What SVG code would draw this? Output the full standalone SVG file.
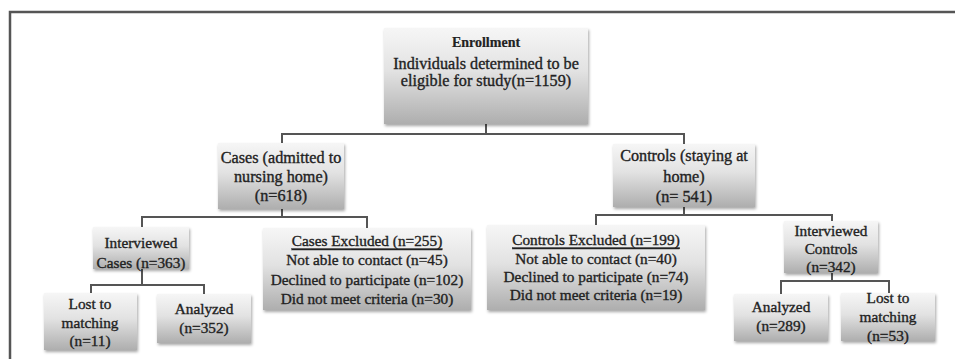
<svg xmlns="http://www.w3.org/2000/svg" width="955" height="359" viewBox="0 0 955 359">
<defs>
<linearGradient id="g" x1="0" y1="0" x2="0" y2="1">
<stop offset="0" stop-color="#f6f6f6"/>
<stop offset="0.45" stop-color="#e2e2e2"/>
<stop offset="1" stop-color="#aeaeae"/>
</linearGradient>
<filter id="sh" x="-10%" y="-10%" width="125%" height="130%">
<feDropShadow dx="1" dy="2" stdDeviation="1.5" flood-color="#000" flood-opacity="0.35"/>
</filter>
</defs>
<style>
.box{fill:url(#g);filter:url(#sh)}
.t{font-family:"Liberation Serif","DejaVu Serif",serif;font-size:15.3px;fill:#222;stroke:#222;stroke-width:0.35;text-anchor:middle;dominant-baseline:central}
.L{font-size:16.2px}
.b{font-weight:bold;font-size:14px;stroke-width:0.2}
.u{text-decoration:underline}
.ln{fill:none;stroke:#555;stroke-width:2}
</style>
<rect x="0" y="0" width="955" height="359" fill="#fff"/>
<path d="M10 359 V12 H955" fill="none" stroke="#555" stroke-width="2.5"/>

<g id="connectors" class="ln">
<path d="M486 124 V134 M282 143 V134 H684 V144"/>
<path d="M282 209 V217 M142 227 V217 H367 V228"/>
<path d="M684 207 V215 M596 225 V215 H832 V222"/>
<path d="M142 269 V285 M91 293 V285 H204 V294"/>
<path d="M832 273 V281 M781 294 V281 H889 V293"/>
</g>

<g id="enrollment">
<rect class="box" x="384" y="28" width="204" height="96"/>
<text class="t b" x="486" y="42">Enrollment</text>
<text class="t L" x="486" y="64">Individuals determined to be</text>
<text class="t L" x="486" y="81">eligible for study(n=1159)</text>
</g>

<g id="cases">
<rect class="box" x="218" y="143" width="126" height="66"/>
<text class="t L" x="281" y="158">Cases (admitted to</text>
<text class="t L" x="281" y="177">nursing home)</text>
<text class="t L" x="281" y="196">(n=618)</text>
</g>

<g id="controls">
<rect class="box" x="613" y="144" width="142" height="63"/>
<text class="t L" x="684" y="156">Controls (staying at</text>
<text class="t L" x="684" y="177">home)</text>
<text class="t L" x="684" y="197">(n= 541)</text>
</g>

<g id="interviewed-cases">
<rect class="box" x="93" y="227" width="96" height="42"/>
<text class="t" x="141" y="242">Interviewed</text>
<text class="t" x="141" y="262">Cases (n=363)</text>
</g>

<g id="cases-excluded">
<rect class="box" x="263" y="228" width="208" height="82"/>
<text class="t u" x="367" y="240">Cases Excluded (n=255)</text>
<text class="t" x="367" y="259">Not able to contact (n=45)</text>
<text class="t" x="367" y="279">Declined to participate (n=102)</text>
<text class="t" x="367" y="298">Did not meet criteria (n=30)</text>
</g>

<g id="controls-excluded">
<rect class="box" x="487" y="225" width="218" height="85"/>
<text class="t u" x="596" y="239">Controls Excluded (n=199)</text>
<text class="t" x="596" y="258">Not able to contact  (n=40)</text>
<text class="t" x="596" y="276">Declined to participate (n=74)</text>
<text class="t" x="596" y="294">Did not meet criteria (n=19)</text>
</g>

<g id="interviewed-controls">
<rect class="box" x="784" y="221" width="94" height="52"/>
<text class="t" x="831" y="230">Interviewed</text>
<text class="t" x="831" y="248">Controls</text>
<text class="t" x="831" y="266">(n=342)</text>
</g>

<g id="lost-cases">
<rect class="box" x="44" y="293" width="93" height="57"/>
<text class="t" x="90" y="303">Lost to</text>
<text class="t" x="90" y="322">matching</text>
<text class="t" x="90" y="340">(n=11)</text>
</g>

<g id="analyzed-cases">
<rect class="box" x="157" y="294" width="94" height="49"/>
<text class="t" x="204" y="308">Analyzed</text>
<text class="t" x="204" y="327">(n=352)</text>
</g>

<g id="analyzed-controls">
<rect class="box" x="734" y="294" width="94" height="47"/>
<text class="t" x="781" y="306">Analyzed</text>
<text class="t" x="781" y="325">(n=289)</text>
</g>

<g id="lost-controls">
<rect class="box" x="841" y="293" width="94" height="48"/>
<text class="t" x="888" y="297">Lost to</text>
<text class="t" x="888" y="316">matching</text>
<text class="t" x="888" y="335">(n=53)</text>
</g>
</svg>
